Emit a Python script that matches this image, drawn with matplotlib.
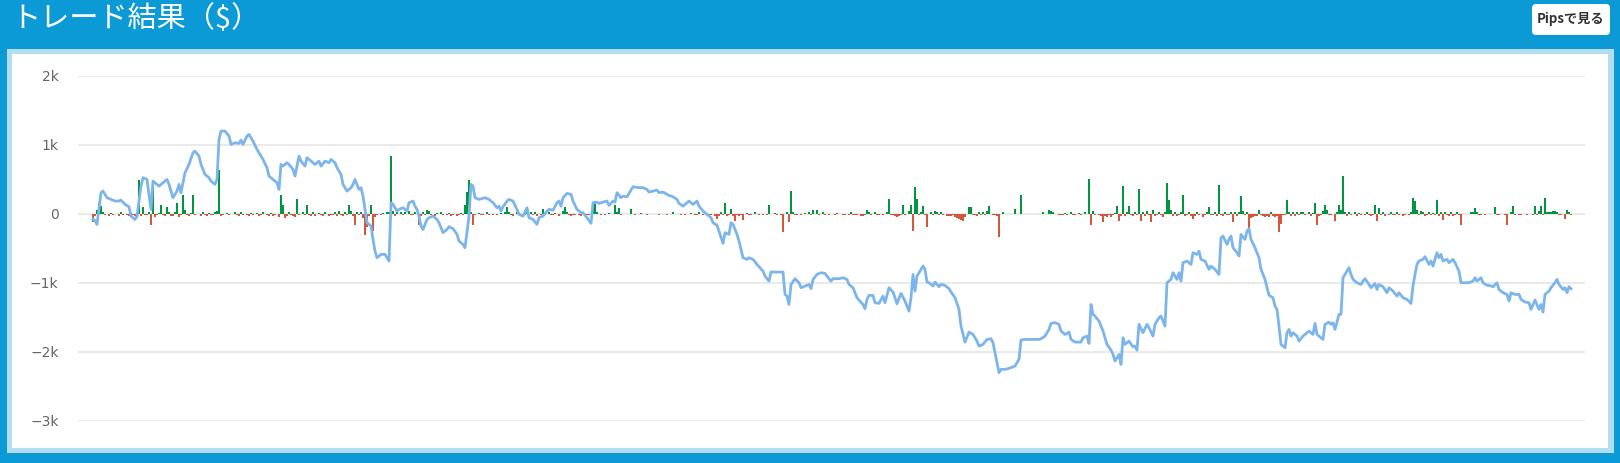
import numpy as np
import matplotlib
matplotlib.use('Agg')
import matplotlib.pyplot as plt
from matplotlib.patches import Rectangle, FancyBboxPatch

# 日本語フォント
plt.rcParams['font.family'] = ['Noto Sans CJK JP', 'DejaVu Sans']

title = 'トレード結果（$）'
button_label = 'Pipsで見る'

# 残高推移: トレード番号と残高($)
line_trade = [
    0, 1, 2, 4, 5, 7, 9, 11, 13, 14, 16, 18, 19, 21, 22, 24, 25, 27, 28, 29,
    30, 32, 33, 35, 37, 38, 39, 40, 42, 43, 44, 46, 48, 50, 51, 53, 54, 56, 58, 59,
    61, 62, 63, 64, 66, 68, 69, 71, 73, 74, 75, 77, 78, 80, 82, 83, 85, 87, 88, 90,
    92, 93, 94, 95, 97, 98, 100, 101, 103, 104, 106, 107, 109, 111, 113, 114, 116, 118, 119, 121,
    122, 124, 125, 127, 129, 130, 131, 133, 134, 135, 136, 137, 139, 140, 141, 142, 144, 146, 148, 149,
    150, 152, 153, 155, 157, 158, 160, 161, 162, 163, 164, 165, 167, 168, 170, 172, 173, 175, 177, 178,
    180, 182, 183, 185, 186, 188, 189, 190, 191, 193, 196, 198, 200, 202, 203, 204, 205, 207, 208, 210,
    212, 213, 215, 217, 218, 220, 222, 223, 225, 227, 228, 230, 232, 233, 234, 235, 237, 239, 240, 242,
    244, 245, 247, 249, 250, 252, 253, 255, 257, 258, 260, 261, 262, 264, 265, 267, 268, 270, 273, 275,
    277, 278, 280, 282, 283, 285, 287, 288, 290, 292, 293, 295, 298, 300, 302, 303, 305, 307, 309, 310,
    312, 313, 315, 316, 318, 319, 320, 322, 323, 325, 327, 328, 330, 332, 333, 335, 336, 338, 339, 341,
    344, 345, 346, 347, 348, 349, 351, 353, 354, 356, 358, 359, 360, 362, 364, 366, 368, 369, 370, 373,
    375, 377, 378, 380, 382, 383, 385, 386, 387, 388, 390, 391, 393, 395, 396, 398, 400, 401, 402, 404,
    406, 408, 409, 410, 411, 412, 413, 415, 416, 417, 418, 420, 421, 423, 424, 426, 428, 429, 431, 433,
    434, 436, 438, 440, 442, 443, 445, 447, 449, 450, 451, 453, 454, 456, 458, 461, 463, 464, 466, 469,
    473, 474, 476, 478, 479, 481, 483, 484, 486, 488, 489, 491, 494, 495, 497, 498, 499, 500, 501, 503,
    505, 507, 509, 510, 511, 513, 514, 515, 516, 518, 520, 521, 522, 523, 525, 527, 528, 530, 531, 533,
    534, 535, 536, 537, 539, 540, 542, 543, 544, 545, 547, 549, 550, 552, 553, 554, 556, 558, 559, 561,
    563, 564, 565, 567, 568, 569, 570, 572, 573, 574, 576, 577, 578, 579, 581, 583, 584, 586, 587, 588,
    590, 591, 592, 593, 594, 596, 597, 598, 599, 600, 602, 603, 605, 607, 608, 610, 611, 612, 613, 615,
    616, 618, 619, 620, 621, 623, 624, 625, 626, 628, 629, 630, 632, 634, 635, 636, 638, 639, 641, 642,
    643, 645, 647, 648, 650, 652, 653, 655, 657, 659, 660, 661, 662, 663, 665, 666, 668, 669, 670, 672,
    673, 674, 675, 677, 678, 680, 681, 683, 684, 686, 688, 690, 691, 692, 694, 695, 697, 698, 700, 702,
    703, 705, 707, 708, 709, 711, 713, 714, 716, 718, 719, 721, 723, 724, 725, 726, 728, 729, 731, 732,
    733, 735, 736, 737, 738, 739,
]
line_balance = [
    -80, -100, -155, 304, 328, 232, 207, 183, 183, 197, 135, 101, -35, -83, -35, 400, 522, 497, 280, 62,
    472, 425, 400, 449, 497, 425, 328, 232, 328, 425, 304, 594, 714, 884, 907, 835, 714, 570, 522, 472,
    425, 497, 1077, 1197, 1197, 1125, 1004, 1028, 1019, 1067, 1004, 1125, 1149, 1052, 932, 884, 787, 667, 545, 497,
    449, 352, 714, 690, 739, 714, 642, 545, 835, 762, 690, 812, 762, 714, 762, 690, 762, 739, 787, 739,
    667, 570, 425, 328, 377, 425, 497, 352, 377, 255, 62, -130, -179, -372, -542, -638, -590, -590, -686, 159,
    135, 38, 62, 86, 38, 159, 183, 110, 62, -35, -179, -228, -83, -58, -35, -83, -130, -275, -228, -188,
    -217, -300, -397, -445, -493, -35, 425, 400, 232, 207, 232, 207, 159, 86, 110, 38, 101, 183, 207, 183,
    62, -10, -35, 86, -58, -83, -155, -58, -35, 38, 62, 52, 159, 183, 110, 232, 294, 280, 183, 62,
    14, 14, -58, -140, 159, 168, 149, 168, 183, 120, 183, 168, 304, 232, 255, 245, 294, 391, 377, 377,
    352, 313, 328, 342, 304, 313, 280, 265, 245, 207, 150, 110, 183, 135, 183, 110, 38, -10, -58, -130,
    -170, -252, -430, -275, -300, -130, -155, -300, -397, -638, -662, -638, -662, -735, -768, -832, -904, -977, -846, -846,
    -846, -846, -1170, -1194, -1315, -1025, -942, -1000, -1073, -1049, -1025, -1087, -952, -880, -855, -865, -942, -977, -942, -942,
    -928, -952, -1025, -1073, -1217, -1252, -1315, -1377, -1242, -1184, -1184, -1290, -1300, -1194, -1290, -1073, -1136, -1217, -1306, -1155,
    -1266, -1412, -1217, -880, -1122, -904, -855, -759, -807, -991, -1000, -1049, -991, -1058, -1025, -1039, -1087, -1136, -1217, -1387,
    -1629, -1861, -1716, -1750, -1846, -1919, -1894, -1822, -1812, -1870, -2014, -2304, -2256, -2256, -2242, -2208, -2111, -1831, -1822, -1822,
    -1822, -1812, -1774, -1677, -1590, -1580, -1604, -1701, -1750, -1716, -1822, -1861, -1861, -1797, -1774, -1880, -1315, -1459, -1484, -1556,
    -1701, -1894, -1977, -2039, -2136, -2039, -2184, -1797, -1894, -1846, -1928, -1919, -1977, -1604, -1725, -1604, -1652, -1774, -1604, -1507,
    -1484, -1556, -1629, -1000, -952, -855, -952, -855, -977, -710, -686, -735, -565, -590, -542, -662, -686, -807, -759, -807,
    -880, -348, -324, -445, -372, -324, -493, -565, -614, -300, -372, -252, -217, -372, -493, -638, -807, -952, -1073, -1182,
    -1218, -1339, -1387, -1629, -1894, -1942, -1725, -1677, -1774, -1725, -1774, -1846, -1774, -1725, -1701, -1750, -1590, -1750, -1774, -1822,
    -1604, -1571, -1604, -1580, -1677, -1459, -1459, -928, -880, -783, -880, -952, -1000, -1025, -977, -942, -1025, -1073, -1011, -1098,
    -1025, -1058, -1145, -1073, -1122, -1194, -1145, -1218, -1242, -1300, -1049, -880, -735, -686, -662, -623, -735, -686, -759, -565,
    -638, -590, -686, -662, -710, -662, -710, -832, -1000, -1000, -1000, -977, -928, -977, -928, -1000, -1039, -1039, -1058, -1000,
    -1098, -1145, -1170, -1266, -1145, -1170, -1170, -1242, -1280, -1290, -1387, -1252, -1387, -1315, -1426, -1170, -1122, -1073, -1000, -952,
    -1025, -1098, -1073, -1145, -1058, -1087,
]

# トレードごとの損益($)
trade_pnl = [
    -121, -40, 60, 150, 110, 25, -20, 0, -30, 15, -25, -10, 0, -35, 20, -15, 0, -20, -30, 10,
    -25, -40, -60, 493, -30, 97, -15, -20, 30, -160, 420, -45, -20, 15, 130, -25, -35, 97, 20, -40,
    -30, 20, 160, -45, -25, 266, 60, -20, -35, 15, 275, -25, -10, 0, -40, 25, -15, -30, 10, -20,
    -15, 25, 40, 628, -30, -20, 0, 15, -25, -10, 0, 30, -20, -35, 20, -15, 0, -25, -30, 10,
    -20, 0, 15, -35, -25, 30, -10, -20, -40, 10, -30, -15, 0, -45, 266, 120, -60, -35, 25, -20,
    -30, -50, 208, -25, 0, 20, -20, 130, -15, -30, 25, -40, 0, 15, -25, -35, 20, 0, -30, -20,
    -25, 20, -30, 40, -20, -40, 30, -15, 121, 45, -30, -160, 20, -25, 30, -60, -314, -200, -40, 130,
    -256, -50, -20, 0, -25, 15, -10, 30, 20, 831, 40, -30, 25, 0, 20, -25, 30, 0, 40, -20,
    -25, 20, 0, -170, -30, 25, -15, 50, 40, -20, 0, -30, 15, 0, 20, -25, 0, -20, 15, -30,
    -20, 0, -35, -25, 10, -20, 120, 314, 483, 20, -160, -20, 0, 15, -25, -15, 0, 20, -20, 0,
    -15, 0, -20, 0, 15, -10, 30, 97, 20, -25, -30, 0, 20, -20, -15, 0, -25, 97, 0, 25,
    -25, 20, -30, 0, -15, 72, -20, 0, 30, -25, -20, 15, 0, -35, -10, 40, 97, 25, -20, -30,
    -25, -15, 0, -20, -30, 0, -20, -25, -15, 0, 160, 160, 20, 0, -15, 0, -20, 0, 15, -10,
    0, 121, 20, 87, -15, 0, 0, -10, 0, 63, 0, -15, 0, 0, 10, 0, 0, -15, 0, -10,
    0, -10, 0, -15, -10, 0, 0, -15, -10, 0, 20, 0, -10, 0, -15, 0, -20, -10, 0, 15,
    0, -15, -20, 25, 0, -15, 20, 0, -20, -25, 0, -30, -82, -40, 20, -25, 160, -30, -20, 63,
    -30, -111, -25, -40, -20, -97, 0, 15, -20, -15, 0, 20, 0, -15, 0, -20, 0, -15, 121, 0,
    0, 15, -20, 0, -25, -266, 0, 20, -121, 324, 25, -20, -15, 0, -25, 0, 15, 0, 20, -20,
    50, 0, 50, -15, 0, 20, -20, 0, -15, 0, 0, -20, 15, 0, 0, -25, -20, 0, -15, 20,
    -20, -15, -25, 0, -30, -30, -15, 58, 30, -20, 0, 25, -20, -15, 0, -20, 0, 25, 208, -15,
    -20, -30, -50, -40, -20, 121, -25, 0, 40, 130, -250, 386, 208, -20, 25, 106, -25, -198, 0, 25,
    -20, 40, 20, -25, 20, -20, 0, -30, -35, -40, -20, -45, -60, -70, -97, -100, -50, 0, 97, 97,
    -25, -20, -30, 30, -20, 25, -25, 40, 111, 0, -20, -15, -40, -338, 0, 20, 0, 0, 0, 0,
    0, 63, 0, 0, 275, 0, 0, 0, 0, 0, 0, 0, 0, 0, 0, 20, 0, 0, 48, 45,
    30, 0, 0, -20, -25, -20, 15, -15, 0, 20, -15, -20, 0, 15, -15, 0, 30, 0, 498, -160,
    40, -15, 0, -20, -40, -121, -30, -45, -20, -50, -25, 15, 106, -111, -40, 396, -30, 20, 106, -25,
    -40, 30, -20, 353, -111, 20, -30, 40, -20, -121, 60, -30, -20, 25, -25, -50, 30, 449, 193, 50,
    -40, 20, -30, -20, 30, 275, -35, -20, 25, -30, -82, -40, 20, -25, 0, -45, -20, 30, 92, -20,
    -25, 20, -40, 420, -20, -30, 30, -20, -25, 20, -121, 25, -40, 30, 256, 40, -20, 30, -227, -60,
    -45, -40, -30, 58, -20, -40, -55, -30, -45, 20, -35, -50, -30, -266, -145, -20, -15, 203, 25, -30,
    25, -35, 20, -20, 20, 30, -25, -10, 25, -30, 15, 160, -160, -30, -25, 35, 121, 60, -20, -15,
    0, -111, 20, 130, 50, 551, 30, -40, 25, -20, 0, 20, -30, 15, -20, 0, -25, 20, -15, -30,
    -20, 121, -111, 82, -25, 20, -30, 0, -20, 30, -15, -25, 20, -20, 0, -30, -15, 0, -25, 20,
    232, 179, 60, -20, 40, 20, -30, -15, 25, -25, 15, -20, 193, -30, 25, -97, 20, -20, -35, 25,
    -30, -20, 20, -25, -160, 0, 0, 0, -10, 20, 30, 82, 20, -25, -20, 0, -25, 0, 0, 0,
    0, 97, -25, -20, 0, 0, -20, -160, 0, 30, 106, -20, 0, -25, -20, 0, 0, -15, 0, 0,
    -15, 106, -20, 40, 106, -25, 232, 25, 30, 20, 40, 39, 30, -20, -25, 0, -82, 58, 25, -20,
]

y_ticks = [2000, 1000, 0, -1000, -2000, -3000]
y_labels = ['2k', '1k', '0', '−1k', '−2k', '−3k']

W, H = 1620, 463
fig = plt.figure(figsize=(W / 100, H / 100), dpi=100)
fig.patch.set_facecolor('#0b9ad6')

# パネル枠(水色)と白地
fig.add_artist(Rectangle((7 / W, 1 - 453 / H), 1607 / W, 404 / H, transform=fig.transFigure,
                         facecolor='#b2deef', edgecolor='none', zorder=-2))
fig.add_artist(Rectangle((12 / W, 1 - 448 / H), 1596 / W, 394 / H, transform=fig.transFigure,
                         facecolor='white', edgecolor='none', zorder=-1))

# タイトルとボタン
fig.text(11 / W, 1 - 19 / H, title, color='white', fontsize=21, ha='left', va='center')
fig.add_artist(FancyBboxPatch((15.32, (H - 35) / 100), 0.78, 0.31,
                              boxstyle='round,pad=0,rounding_size=0.04',
                              transform=fig.dpi_scale_trans, facecolor='white', edgecolor='none'))
fig.text(1571 / W, 1 - 19.5 / H, button_label, color='#333333', fontsize=9.5,
         fontweight='bold', ha='center', va='center')

ax = fig.add_axes([78 / W, (H - 420.7) / H, 1507 / W, 345 / H])
ax.set_facecolor('none')

for y in y_ticks:
    ax.axhline(y, color='#e6e6e6', lw=1.2, zorder=1)

pnl = np.array(trade_pnl)
idx = np.arange(len(pnl))
colors = np.where(pnl >= 0, '#009640', '#d5573b')
ax.bar(idx, pnl, width=0.65, color=colors, zorder=2)

ax.plot(line_trade, line_balance, color='#7cb5ec', lw=2.0, zorder=3)

ax.set_xlim(-7.5, 746)
ax.set_ylim(-3000, 2000)
ax.set_xticks([])
ax.set_yticks(y_ticks)
ax.set_yticklabels(y_labels, fontfamily='DejaVu Sans', fontsize=10, color='#666666')
ax.tick_params(axis='y', length=0, pad=14)
for s in ax.spines.values():
    s.set_visible(False)

plt.savefig('out.png', dpi=100, facecolor=fig.get_facecolor())
